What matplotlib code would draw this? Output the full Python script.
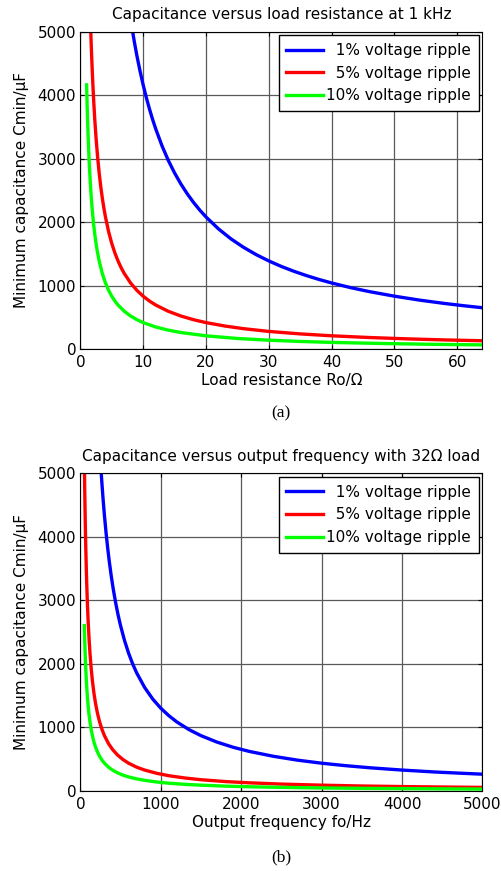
import matplotlib
matplotlib.use('Agg')
import matplotlib.pyplot as plt

plt.rcParams['font.family'] = ['DejaVu Sans']

# ============================================================
# DATA
# ============================================================

legend_labels = ['  1% voltage ripple', '  5% voltage ripple', '10% voltage ripple']
line_colors = ['#0000ff', '#ff0000', '#00ff00']

# (a) capacitance vs load resistance at 1 kHz
r_1pct = [8.32, 8.6, 9, 9.5, 10, 10.5, 11, 11.5, 12, 13, 14, 15, 16, 17, 18, 19, 20,
          22, 24, 26, 28, 30, 32, 34, 36, 38, 40, 43, 46, 50, 54, 58, 61, 64]
c_1pct = [5000, 4837, 4622, 4379, 4160, 3962, 3782, 3617, 3467, 3200, 2971, 2773,
          2600, 2447, 2311, 2189, 2080, 1891, 1733, 1600, 1486, 1387, 1300, 1224,
          1156, 1095, 1040, 967, 904, 832, 770, 717, 682, 650]

r_5pct = [1.664, 1.75, 1.85, 2, 2.15, 2.3, 2.5, 2.75, 3, 3.25, 3.5, 3.75, 4, 4.5, 5,
          5.5, 6, 6.5, 7, 8, 9, 10, 11, 12, 14, 16, 18, 20, 23, 26, 30, 35, 40, 46,
          52, 58, 64]
c_5pct = [5000, 4754, 4497, 4160, 3870, 3617, 3328, 3025, 2773, 2560, 2377, 2219,
          2080, 1849, 1664, 1513, 1387, 1280, 1189, 1040, 924, 832, 756, 693, 594,
          520, 462, 416, 362, 320, 277, 238, 208, 181, 160, 143, 130]

r_10pct = [1, 1.08, 1.16, 1.25, 1.35, 1.45, 1.6, 1.75, 1.9, 2.1, 2.3, 2.5, 2.75, 3,
           3.5, 4, 4.5, 5, 5.5, 6, 7, 8, 9, 10, 12, 14, 16, 20, 25, 30, 35, 40, 48,
           56, 64]
c_10pct = [4160, 3852, 3586, 3328, 3081, 2869, 2600, 2377, 2189, 1981, 1809, 1664,
           1513, 1387, 1189, 1040, 924, 832, 756, 693, 594, 520, 462, 416, 347, 297,
           260, 208, 166, 139, 119, 104, 87, 74, 65]

# (b) capacitance vs output frequency with 32 ohm load
f_1pct = [260, 270, 285, 300, 320, 340, 360, 385, 410, 440, 470, 500, 550, 600, 650,
          700, 800, 900, 1000, 1100, 1200, 1350, 1500, 1700, 1900, 2100, 2400, 2700,
          3000, 3300, 3600, 4000, 4400, 4700, 5000]
cf_1pct = [5000, 4815, 4561, 4333, 4063, 3824, 3611, 3377, 3171, 2955, 2766, 2600,
           2364, 2167, 2000, 1857, 1625, 1444, 1300, 1182, 1083, 963, 867, 765, 684,
           619, 542, 481, 433, 394, 361, 325, 295, 277, 260]

f_5pct = [52, 55, 58, 62, 66, 70, 75, 80, 86, 93, 100, 110, 120, 135, 150, 170, 190,
          215, 240, 270, 300, 350, 400, 460, 530, 600, 700, 800, 950, 1100, 1300,
          1500, 1800, 2100, 2500, 3000, 3500, 4000, 4500, 5000]
cf_5pct = [5000, 4727, 4483, 4194, 3939, 3714, 3467, 3250, 3023, 2796, 2600, 2364,
           2167, 1926, 1733, 1529, 1368, 1209, 1083, 963, 867, 743, 650, 565, 491,
           433, 371, 325, 274, 236, 200, 173, 144, 124, 104, 87, 74, 65, 58, 52]

f_10pct = [50, 53, 56, 60, 64, 68, 73, 78, 84, 90, 98, 106, 116, 128, 140, 155, 170,
           190, 215, 240, 270, 300, 350, 400, 460, 530, 600, 700, 800, 950, 1100,
           1300, 1500, 1800, 2100, 2500, 3000, 3500, 4000, 4500, 5000]
cf_10pct = [2600, 2453, 2321, 2167, 2031, 1912, 1781, 1667, 1548, 1444, 1327, 1226,
            1121, 1016, 929, 839, 765, 684, 605, 542, 481, 433, 371, 325, 283, 245,
            217, 186, 163, 137, 118, 100, 87, 72, 62, 52, 43, 37, 33, 29, 26]

yticks = [0, 1000, 2000, 3000, 4000, 5000]
xticks_a = [0, 10, 20, 30, 40, 50, 60]
xticks_b = [0, 1000, 2000, 3000, 4000, 5000]

# ============================================================
# PLOT
# ============================================================

fig = plt.figure(figsize=(5.02, 8.71), dpi=100)

ax1 = fig.add_axes([0.160, 0.5993, 0.801, 0.3645])
ax2 = fig.add_axes([0.160, 0.0922, 0.801, 0.3645])


def style_axes(ax, xlim, xticks, title, xlabel):
    ax.set_xlim(*xlim)
    ax.set_ylim(0, 5000)
    ax.set_xticks(xticks)
    ax.set_yticks(yticks)
    ax.grid(True, color='0.35', linewidth=0.9)
    ax.tick_params(direction='in', top=True, right=True, labelsize=11,
                   length=3, width=0.8)
    ax.tick_params(axis='x', pad=4.5)
    ax.tick_params(axis='y', pad=3)
    for s in ax.spines.values():
        s.set_linewidth(0.8)
    ax.set_title(title, fontsize=11, pad=9)
    ax.set_xlabel(xlabel, fontsize=11, labelpad=2)
    ax.set_ylabel('Minimum capacitance Cmin/\u03bcF', fontsize=11, labelpad=6)
    ax.legend(loc='upper right', fontsize=11, handlelength=2.4,
              fancybox=False, edgecolor='black', framealpha=1,
              borderaxespad=0.25, labelspacing=0.5, handletextpad=0.2,
              borderpad=0.5)


ax1.plot(r_1pct, c_1pct, color=line_colors[0], lw=2.4, label=legend_labels[0])
ax1.plot(r_5pct, c_5pct, color=line_colors[1], lw=2.4, label=legend_labels[1])
ax1.plot(r_10pct, c_10pct, color=line_colors[2], lw=2.4, label=legend_labels[2])
style_axes(ax1, (0, 64), xticks_a, 'Capacitance versus load resistance at 1 kHz',
           'Load resistance Ro/\u03a9')

ax2.plot(f_1pct, cf_1pct, color=line_colors[0], lw=2.4, label=legend_labels[0])
ax2.plot(f_5pct, cf_5pct, color=line_colors[1], lw=2.4, label=legend_labels[1])
ax2.plot(f_10pct, cf_10pct, color=line_colors[2], lw=2.4, label=legend_labels[2])
style_axes(ax2, (0, 5000), xticks_b,
           'Capacitance versus output frequency with 32\u03a9 load',
           'Output frequency fo/Hz')

fig.text(0.5603, 1 - 413 / 871, '(a)', ha='center', va='center',
         family='Liberation Serif', fontsize=12.5)
fig.text(0.5603, 1 - 857 / 871, '(b)', ha='center', va='center',
         family='Liberation Serif', fontsize=12.5)

fig.savefig('out.png', dpi=100)
